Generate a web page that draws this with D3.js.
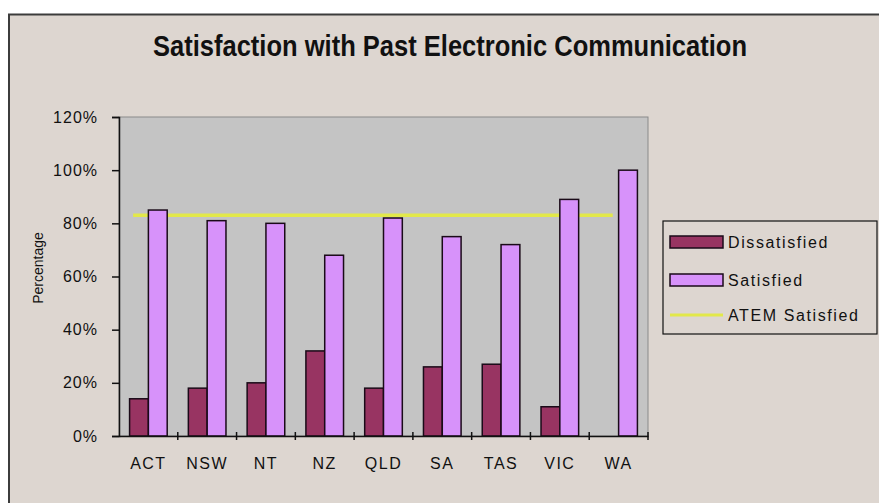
<!DOCTYPE html>
<html>
<head>
<meta charset="utf-8">
<script src="https://cdn.jsdelivr.net/npm/d3@7"></script>
<style>
  html, body { margin: 0; padding: 0; background: #ffffff; }
  svg { display: block; }
  text { font-family: "Liberation Sans", Arial, sans-serif; fill: #111; }
</style>
</head>
<body>
<svg id="chart" width="879" height="503"></svg>
<script>
// Regions and survey shares
const regions = ["ACT", "NSW", "NT", "NZ", "QLD", "SA", "TAS", "VIC", "WA"];
const dissatisfied = [0.14, 0.18, 0.20, 0.32, 0.18, 0.26, 0.27, 0.11, 0.00];
const satisfied    = [0.85, 0.81, 0.80, 0.68, 0.82, 0.75, 0.72, 0.89, 1.00];
const atemSatisfied = 0.83;
const yTicks = [0, 0.2, 0.4, 0.6, 0.8, 1.0, 1.2];
const seriesNames = ["Dissatisfied", "Satisfied"];
const legendLabels = ["Dissatisfied", "Satisfied", "ATEM Satisfied"];
const chartTitle = "Satisfaction with Past Electronic Communication";
const yTitle = "Percentage";

const colors = { Dissatisfied: "#983462", Satisfied: "#d792fa", line: "#e2e84a" };

const svg = d3.select("#chart");
const W = 879, H = 503;
const plot = { left: 119, right: 648, top: 117, bottom: 436 };

// Chart area frame
svg.append("rect").attr("x", 9).attr("y", 14.5).attr("width", W + 20).attr("height", H)
  .attr("fill", "#ddd6d0").attr("stroke", "#3c3c3c").attr("stroke-width", 2);

// Title
svg.append("text")
  .attr("x", 450).attr("y", 56)
  .attr("text-anchor", "middle")
  .attr("textLength", 594).attr("lengthAdjust", "spacingAndGlyphs")
  .style("font-size", "29px").style("font-weight", "bold")
  .text(chartTitle);

// Scales
const x = d3.scaleBand().domain(regions).range([plot.left, plot.right]).padding(0);
const bw = x.bandwidth();
const xSub = d3.scaleBand().domain(seriesNames).range([bw * 0.18, bw * 0.82]).padding(0);
const y = d3.scaleLinear().domain([0, 1.2]).range([plot.bottom, plot.top]);

// Plot area
svg.append("rect")
  .attr("x", plot.left).attr("y", plot.top)
  .attr("width", plot.right - plot.left).attr("height", plot.bottom - plot.top)
  .attr("fill", "#c4c4c4").attr("stroke", "#8a8a8a").attr("stroke-width", 1);

// ATEM benchmark line
svg.append("line")
  .attr("x1", x(regions[0]) + bw * 0.24).attr("x2", x(regions[regions.length - 1]) + bw * 0.4)
  .attr("y1", y(atemSatisfied)).attr("y2", y(atemSatisfied))
  .attr("stroke", colors.line).attr("stroke-width", 3.5);

// Bars
const rows = regions.map((r, i) => ({ region: r, Dissatisfied: dissatisfied[i], Satisfied: satisfied[i] }));
const groups = svg.append("g").selectAll("g").data(rows).join("g")
  .attr("transform", d => `translate(${x(d.region)},0)`);
groups.selectAll("rect")
  .data(d => seriesNames.map(s => ({ s, v: d[s] })).filter(e => e.v > 0))
  .join("rect")
  .attr("x", e => xSub(e.s))
  .attr("y", e => y(e.v))
  .attr("width", xSub.bandwidth())
  .attr("height", e => y(0) - y(e.v))
  .attr("fill", e => colors[e.s])
  .attr("stroke", "#1a0a18").attr("stroke-width", 1.5);

// Y axis
const yAxis = d3.axisLeft(y).tickValues(yTicks).tickFormat(d3.format(".0%"))
  .tickSize(7).tickPadding(14);
const gy = svg.append("g").attr("transform", `translate(${plot.left},0)`).call(yAxis);
gy.select(".domain").attr("stroke", "#111").attr("stroke-width", 1.5);
gy.selectAll(".tick line").attr("stroke", "#111").attr("stroke-width", 1.5);
gy.selectAll(".tick text").style("font-size", "16px").style("font-family", "Liberation Sans, Arial, sans-serif")
  .attr("fill", "#111").attr("letter-spacing", "1px");

// X axis
const xAxis = d3.axisBottom(x).tickSize(0).tickPadding(22);
const gx = svg.append("g").attr("transform", `translate(0,${plot.bottom})`).call(xAxis);
gx.select(".domain").attr("stroke", "#111").attr("stroke-width", 1.5);
gx.selectAll(".tick text").style("font-size", "16px").style("font-family", "Liberation Sans, Arial, sans-serif")
  .attr("fill", "#111").attr("letter-spacing", "1.5px");
// tick marks on category boundaries
const bounds = regions.map(r => x(r) + bw);
gx.selectAll(".bound").data(bounds).join("line").attr("class", "bound")
  .attr("x1", d => d).attr("x2", d => d).attr("y1", -4).attr("y2", 4)
  .attr("stroke", "#111").attr("stroke-width", 1.5);

// Y axis title
svg.append("text")
  .attr("transform", `translate(43,268) rotate(-90)`)
  .attr("text-anchor", "middle")
  .style("font-size", "14px")
  .text(yTitle);

// Legend
const lg = svg.append("g");
lg.append("rect").attr("x", 663).attr("y", 221).attr("width", 214).attr("height", 113)
  .attr("fill", "#ddd6d0").attr("stroke", "#111").attr("stroke-width", 1.2);
const legendY = [242, 280, 315];
legendLabels.forEach((lab, i) => {
  if (i < 2) {
    lg.append("rect").attr("x", 670).attr("y", legendY[i] - 6).attr("width", 53).attr("height", 12)
      .attr("fill", colors[seriesNames[i]]).attr("stroke", "#1a0a18").attr("stroke-width", 1.5);
  } else {
    lg.append("line").attr("x1", 670).attr("x2", 723).attr("y1", legendY[i]).attr("y2", legendY[i])
      .attr("stroke", colors.line).attr("stroke-width", 3);
  }
  lg.append("text").attr("x", 728).attr("y", legendY[i]).attr("dy", "0.35em")
    .attr("letter-spacing", "1.6px")
    .style("font-size", "16px").text(lab);
});
</script>
</body>
</html>
